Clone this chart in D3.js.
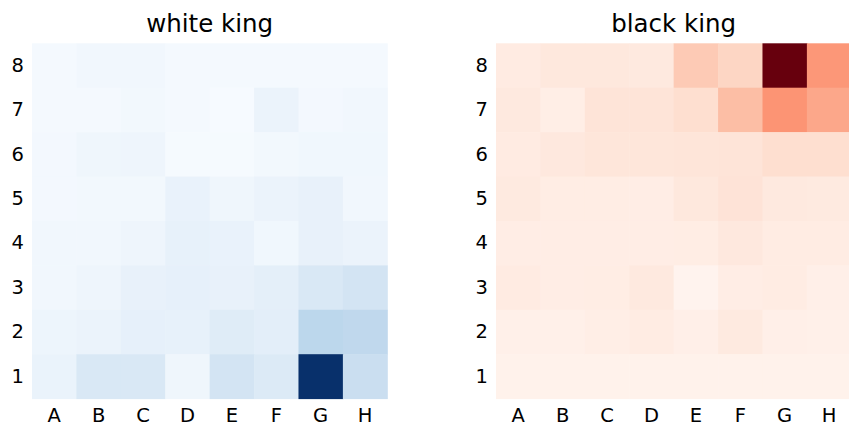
<!DOCTYPE html>
<html><head><meta charset="utf-8">
<script src="https://cdn.jsdelivr.net/npm/d3@7"></script>
<style>html,body{margin:0;padding:0;background:#fff;}svg{display:block;}</style>
</head><body>
<svg id="chart" width="849" height="432"></svg>
<script>
const files = ["A","B","C","D","E","F","G","H"];
const ranks = ["8","7","6","5","4","3","2","1"];
// rows listed from rank 8 down to rank 1, columns A..H
const whiteKing = [
  [0.015,0.03,0.03,0.015,0.015,0.015,0.015,0.015],
  [0.015,0.015,0.025,0.015,0.005,0.06,0.02,0.03],
  [0.02,0.04,0.045,0.01,0.01,0.025,0.035,0.035],
  [0.02,0.025,0.025,0.07,0.04,0.06,0.075,0.03],
  [0.03,0.03,0.045,0.08,0.07,0.035,0.075,0.06],
  [0.03,0.045,0.075,0.085,0.075,0.095,0.15,0.18],
  [0.05,0.06,0.085,0.08,0.12,0.1,0.28,0.27],
  [0.065,0.15,0.15,0.04,0.18,0.135,1.0,0.23]
];
const blackKing = [
  [0.06,0.08,0.08,0.07,0.2,0.16,1.0,0.36],
  [0.07,0.04,0.1,0.1,0.13,0.24,0.37,0.31],
  [0.06,0.075,0.09,0.09,0.095,0.1,0.13,0.13],
  [0.065,0.05,0.05,0.045,0.08,0.105,0.07,0.065],
  [0.045,0.045,0.045,0.045,0.05,0.075,0.055,0.055],
  [0.06,0.045,0.05,0.07,0.01,0.045,0.055,0.035],
  [0.03,0.03,0.04,0.055,0.035,0.065,0.035,0.03],
  [0.02,0.02,0.02,0.02,0.02,0.02,0.02,0.02]
];
const titles = ["white king","black king"];
const bluesStops = ["#f7fbff","#deebf7","#c6dbef","#9ecae1","#6baed6","#4292c6","#2171b5","#08519c","#08306b"];
const redsStops = ["#fff5f0","#fee0d2","#fcbba1","#fc9272","#fb6a4a","#ef3b2c","#cb181d","#a50f15","#67000d"];

const svg = d3.select("#chart");
const font = "DejaVu Sans, sans-serif";
const panels = [
  {data: whiteKing, stops: bluesStops, left: 32, title: titles[0]},
  {data: blackKing, stops: redsStops, left: 496, title: titles[1]}
];
const topY = 43.3, size = 355.3;

panels.forEach(p => {
  const x = d3.scaleBand().domain(files).range([p.left, p.left + size]);
  const y = d3.scaleBand().domain(ranks).range([topY, topY + size]);
  const flat = [];
  p.data.forEach((row, i) => row.forEach((v, j) => flat.push({r: ranks[i], f: files[j], v})));
  const vmax = d3.max(flat, d => d.v);
  const color = d3.scaleLinear()
    .domain(d3.range(9).map(k => k / 8))
    .range(p.stops)
    .interpolate(d3.interpolateRgb);
  const g = svg.append("g");
  g.selectAll("rect").data(flat).join("rect")
    .attr("x", d => x(d.f)).attr("y", d => y(d.r))
    .attr("width", x.bandwidth() + 0.5).attr("height", y.bandwidth() + 0.5)
    .attr("fill", d => color(d.v / vmax));
  const xa = g.append("g").attr("transform", `translate(0,${topY + size})`)
    .call(d3.axisBottom(x).tickSize(0).tickPadding(10));
  const ya = g.append("g").attr("transform", `translate(${p.left},0)`)
    .call(d3.axisLeft(y).tickSize(0).tickPadding(8));
  [xa, ya].forEach(a => {
    a.select(".domain").remove();
    a.selectAll("text").attr("font-family", font).attr("font-size", 19.5).attr("fill", "#000");
  });
  g.append("text").attr("x", p.left + size / 2).attr("y", 32)
    .attr("text-anchor", "middle").attr("font-family", font).attr("font-size", 24.5)
    .attr("fill", "#000").text(p.title);
});
</script>
</body></html>
